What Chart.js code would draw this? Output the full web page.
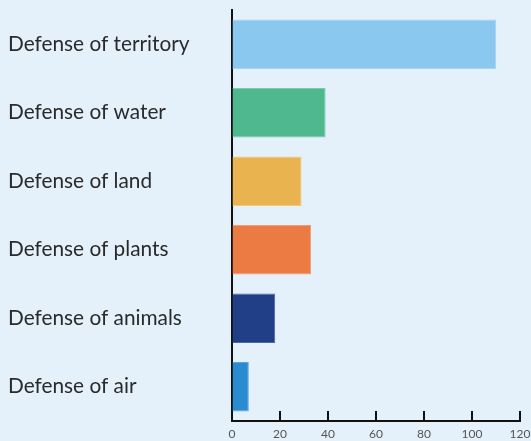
<!DOCTYPE html>
<html>
<head>
<meta charset="utf-8">
<script src="https://cdn.jsdelivr.net/npm/chart.js@4"></script>
<style>
    html, body { margin: 0; padding: 0; background: #e4f1fb; }
    #wrap { width: 531px; height: 441px; }
</style>
</head>
<body>
<div id="wrap"><canvas id="myChart"></canvas></div>
<script>
const categorias = ['Defense of territory', 'Defense of water', 'Defense of land', 'Defense of plants', 'Defense of animals', 'Defense of air'];
const valores = [110, 39, 29, 33, 18, 7];
const cores = ['#8bc8ef', '#50b88e', '#e9b44f', '#ec7a43', '#213f86', '#2a8bd0'];
const bordas = ['#a6d6f4', '#7ccaa9', '#f0c97d', '#f19c74', '#4d66a0', '#5aa6dc'];
const ticksX = [0, 20, 40, 60, 80, 100, 120];

// marcas do eixo x desenhadas para dentro (para cima)
const marcasX = {
    id: 'marcasX',
    afterDraw(chart) {
        const { ctx, scales: { x } } = chart;
        const base = x.top;
        ctx.save();
        ctx.strokeStyle = '#111';
        ctx.lineWidth = 2;
        ticksX.forEach(v => {
            const px = Math.round(x.getPixelForValue(v));
            ctx.beginPath();
            ctx.moveTo(px, base);
            ctx.lineTo(px, base - 10);
            ctx.stroke();
        });
        ctx.restore();
    }
};

const ctx = document.getElementById('myChart').getContext('2d');

new Chart(ctx, {
    type: 'bar',
    data: {
        labels: categorias,
        datasets: [{
            data: valores,
            backgroundColor: cores,
            borderColor: bordas,
            borderWidth: 1,
            barPercentage: 0.72,
            categoryPercentage: 1
        }]
    },
    options: {
        indexAxis: 'y',
        responsive: true,
        maintainAspectRatio: false,
        animation: false,
        layout: { padding: { left: 8, right: 11, top: 10, bottom: 0 } },
        plugins: {
            legend: { display: false },
            tooltip: { enabled: false }
        },
        scales: {
            x: {
                min: 0,
                max: 120,
                afterBuildTicks: scale => {
                    scale.ticks = ticksX.map(v => ({ value: v }));
                },
                afterFit: scale => {
                    scale.height = 20;
                    scale.paddingLeft = 0;
                    scale.paddingRight = 0;
                },
                border: { display: true, color: '#111', width: 2 },
                grid: { drawOnChartArea: false, drawTicks: false },
                ticks: {
                    padding: 6,
                    color: '#555',
                    font: { family: 'Lato', size: 12 }
                }
            },
            y: {
                afterFit: scale => {
                    scale.width = 224;
                    scale.paddingTop = 0;
                    scale.paddingBottom = 0;
                },
                border: { display: true, color: '#111', width: 2 },
                grid: { display: false },
                ticks: {
                    crossAlign: 'far',
                    color: '#2a2a2a',
                    font: { family: 'Lato', size: 20.8 }
                }
            }
        }
    },
    plugins: [marcasX]
});
</script>
</body>
</html>
